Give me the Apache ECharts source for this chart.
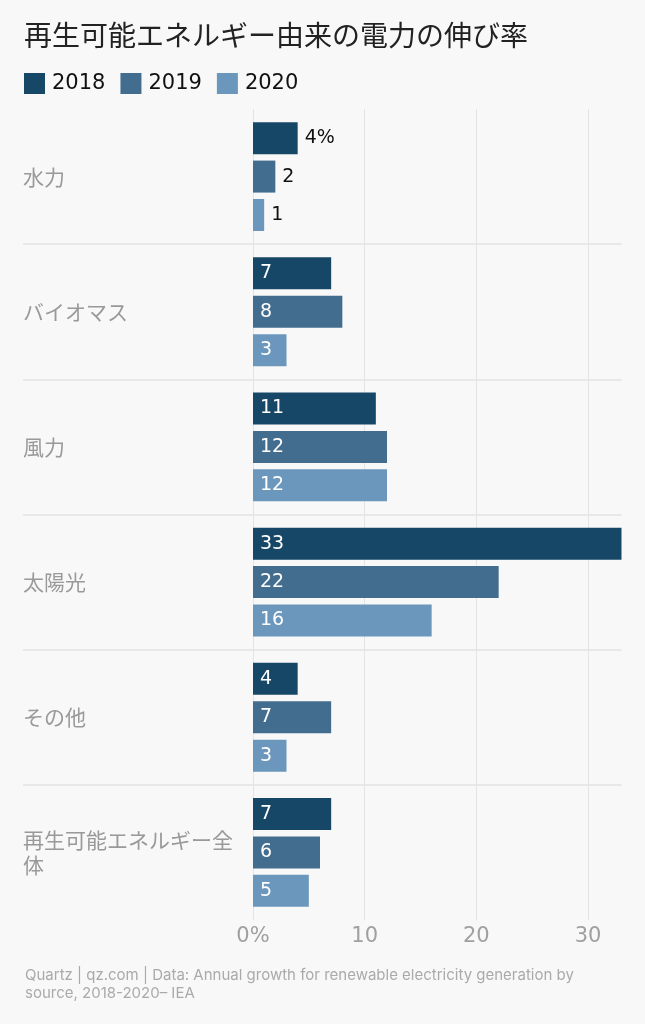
<!DOCTYPE html>
<html>
<head>
<meta charset="utf-8">
<script src="https://cdn.jsdelivr.net/npm/echarts@6/dist/echarts.min.js"></script>
<style>
html,body{margin:0;padding:0;background:#f8f8f8;}
#chart{width:645px;height:1024px;}
</style>
</head>
<body>
<div id="chart"></div>
<script>
const categories = ['水力', 'バイオマス', '風力', '太陽光', 'その他', '再生可能エネルギー全体'];
const years = ['2018', '2019', '2020'];
const values2018 = [4, 7, 11, 33, 4, 7];
const values2019 = [2, 8, 12, 22, 7, 6];
const values2020 = [1, 3, 12, 16, 3, 5];
const xTickLabels = ['0%', '10', '20', '30'];

const seriesValues = [values2018, values2019, values2020];
const colors = ['#174766', '#436d8f', '#6b97bd'];
const FONT = "Inter, 'Noto Sans CJK JP', sans-serif";
const CJK = "'Noto Sans CJK JP', sans-serif";
const NUM = "'DejaVu Sans', sans-serif";

const chart = echarts.init(document.getElementById('chart'));

const series = years.map((y, si) => ({
  name: y,
  type: 'bar',
  xAxisIndex: 0,
  yAxisIndex: 0,
  barWidth: 32,
  barGap: '20%',
  itemStyle: { color: colors[si] },
  data: seriesValues[si].map((v, ci) => {
    const outside = ci === 0;
    return {
      value: v,
      label: {
        show: true,
        position: outside ? 'right' : 'insideLeft',
        distance: 7,
        color: outside ? '#111' : '#fff',
        fontSize: 19,
        fontFamily: NUM,
        formatter: (si === 0 && ci === 0) ? '{c}%' : '{c}'
      }
    };
  })
}));

chart.setOption({
  backgroundColor: '#f8f8f8',
  animation: false,
  title: [
    {
      text: '再生可能エネルギー由来の電力の伸び率',
      left: 19, top: 16,
      textStyle: { fontSize: 28, fontWeight: 'normal', color: '#222', fontFamily: CJK }
    },
    {
      text: 'Quartz | qz.com | Data: Annual growth for renewable electricity generation by\nsource, 2018-2020– IEA',
      left: 20, top: 961,
      textStyle: { fontSize: 15, fontWeight: 'normal', color: '#aaa', lineHeight: 18, fontFamily: FONT }
    }
  ],
  legend: {
    left: 19, top: 68,
    icon: 'rect',
    itemWidth: 21, itemHeight: 21,
    itemGap: 15,
    data: years,
    textStyle: { fontSize: 21, color: '#111', fontFamily: NUM, padding: [0, 0, 0, 2] }
  },
  grid: [
    { left: 253, right: 23.5, top: 109, bottom: 104 },
    { left: 23, right: 23.5, top: 109, bottom: 104 }
  ],
  xAxis: [
    {
      gridIndex: 0,
      type: 'value',
      min: 0, max: 33, interval: 10,
      axisLine: { show: false },
      axisTick: { show: false },
      splitLine: { show: true, showMaxLine: false, lineStyle: { color: '#e4e4e4', width: 1 } },
      axisLabel: {
        showMaxLabel: false,
        margin: 6,
        color: '#a0a0a0', fontSize: 21, fontFamily: NUM,
        formatter: (v) => { const i = v / 10; return Number.isInteger(i) && i < xTickLabels.length ? xTickLabels[i] : ''; }
      }
    },
    { gridIndex: 1, type: 'value', show: false, min: 0, max: 1 }
  ],
  yAxis: [
    {
      gridIndex: 0,
      type: 'category',
      inverse: true,
      data: categories,
      axisLine: { show: false },
      axisTick: { show: false },
      splitLine: { show: false },
      axisLabel: {
        align: 'left',
        margin: 230,
        width: 222,
        overflow: 'break',
        lineHeight: 25,
        padding: [0, 0, 5, 0],
        color: '#999', fontSize: 21, fontFamily: CJK
      }
    },
    {
      gridIndex: 1,
      type: 'category',
      inverse: true,
      data: categories,
      axisLine: { show: false },
      axisTick: { show: false },
      axisLabel: { show: false },
      splitLine: { show: true, showMinLine: false, showMaxLine: false, lineStyle: { color: '#e8e8e8', width: 2 } }
    }
  ],
  series: series
});
</script>
</body>
</html>
